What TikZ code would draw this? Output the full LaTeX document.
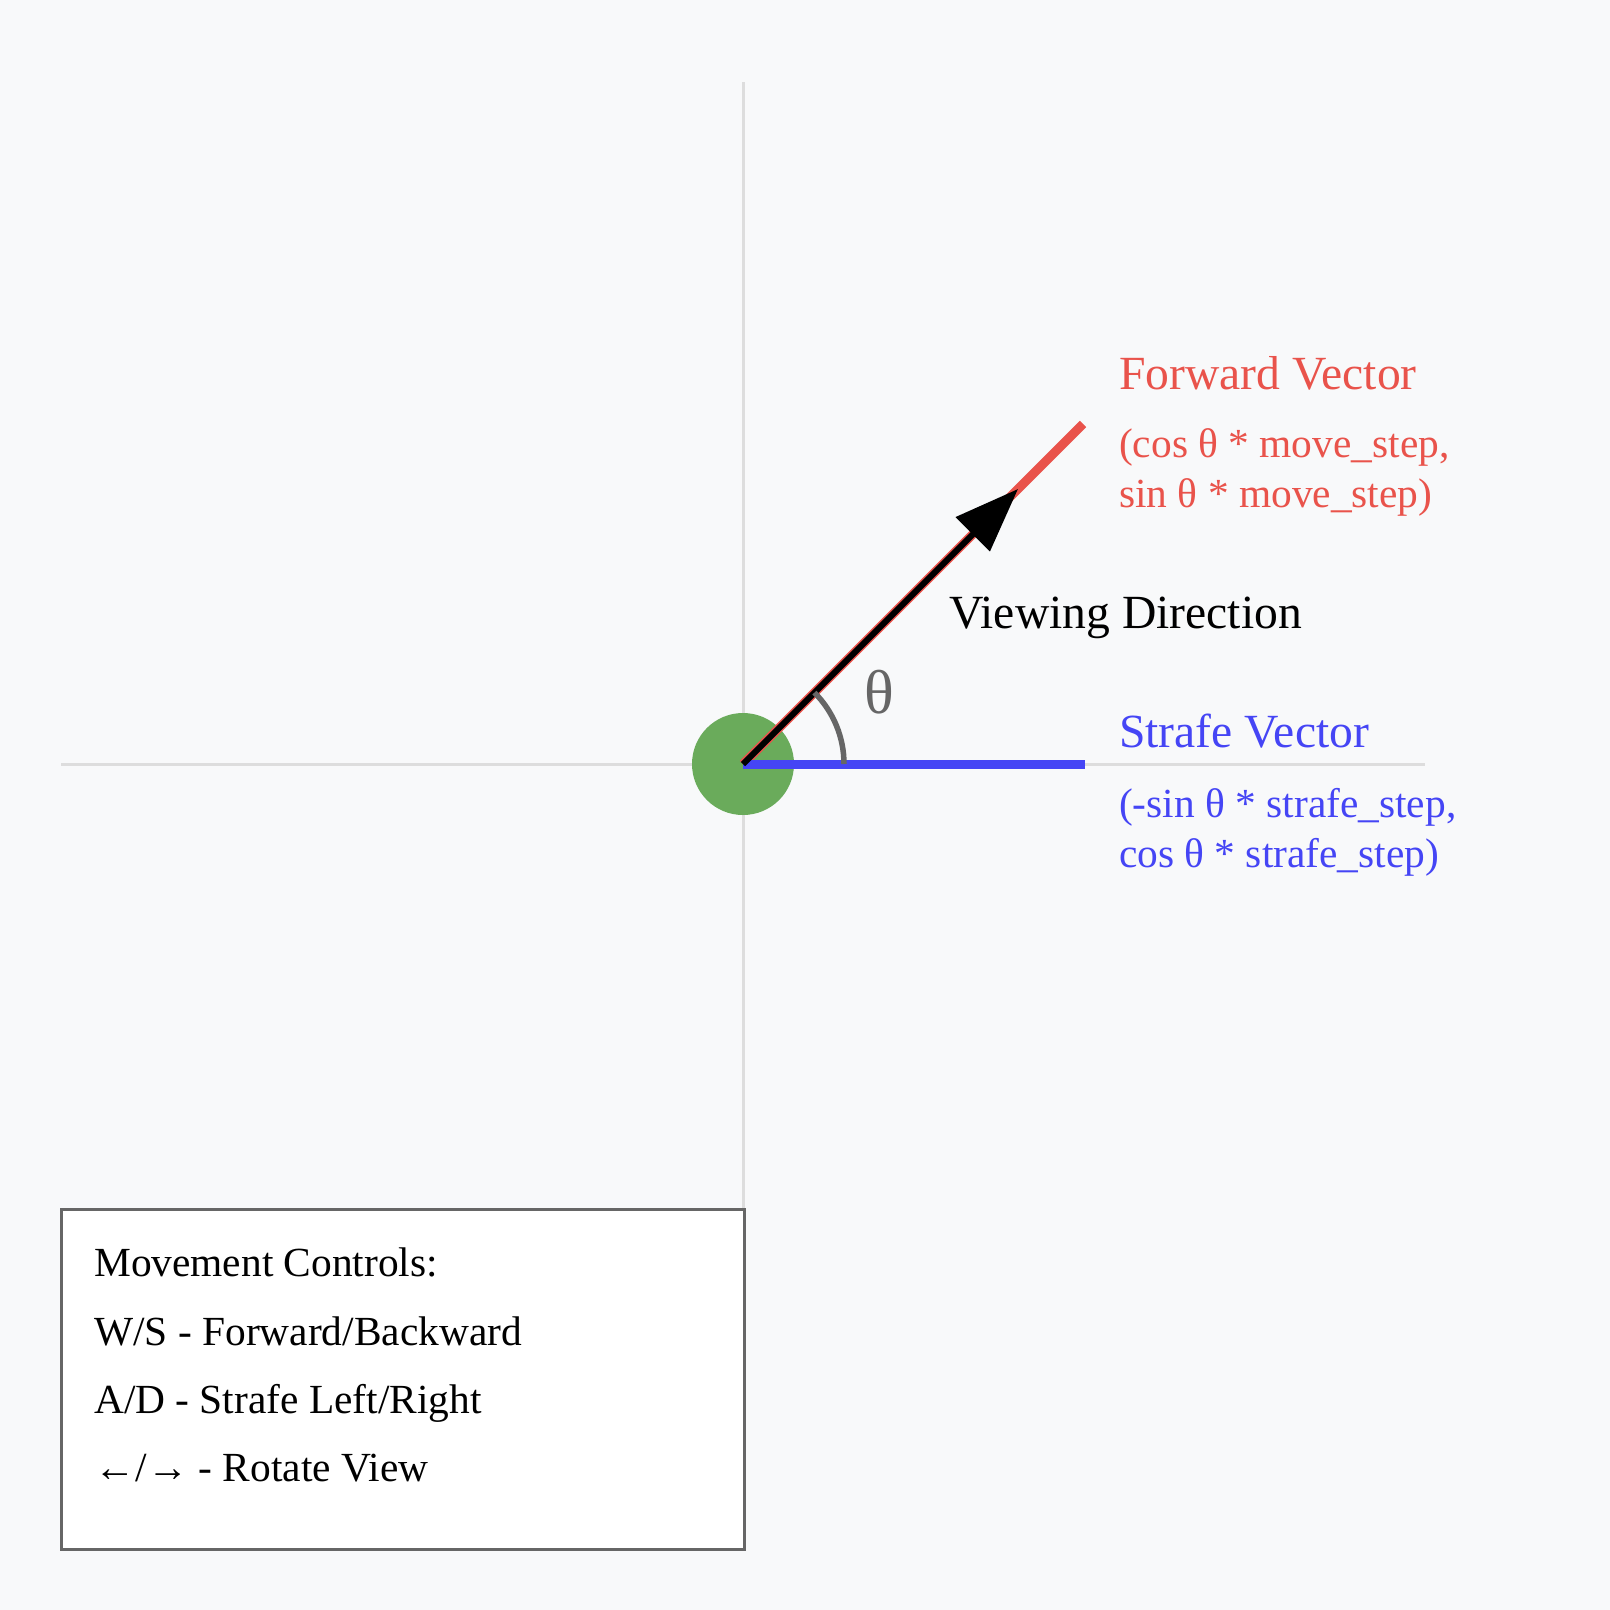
\documentclass[tikz,border=0pt]{standalone}
\usepackage{fontspec}
\setmainfont{Liberation Serif}
\usetikzlibrary{arrows.meta}
\definecolor{bg}{HTML}{F8F9FA}
\definecolor{axisgray}{HTML}{DDDDDD}
\definecolor{fwdred}{HTML}{E9534B}
\definecolor{strblue}{HTML}{4545F5}
\definecolor{playergreen}{HTML}{6AAB5B}
\definecolor{boxgray}{HTML}{666666}
\begin{document}
\begin{tikzpicture}[x=1pt,y=-1pt,
  lbl/.style={anchor=base west, inner sep=0pt},
  big/.style={font=\fontsize{47.6}{56}\selectfont},
  small/.style={font=\fontsize{41.4}{49}\selectfont},
  axisline/.style={axisgray, line width=3pt},
  vecline/.style={line width=9pt},
]
\fill[bg] (0,0) rectangle (1610,1610);
\useasboundingbox (0,0) rectangle (1610,1610);
% axes
\coordinate (xl) at (61,764);
\coordinate (xr) at (1425,764);
\coordinate (yt) at (743,82);
\coordinate (yb) at (743,1210);
\draw[axisline] (xl) -- (xr);
\draw[axisline] (yt) -- (yb);
% player
\node (player) [circle, fill=playergreen, minimum size=102pt, inner sep=0pt] at (743,764) {};
\coordinate (F) at (1083,424);
\coordinate (S) at (1085,764);
\coordinate (T) at (1018,489);
\coordinate (A) at (844,764);
% vectors
\draw[vecline, fwdred] (player.center) -- (F);
\draw[vecline, strblue] (player.center) -- (S);
\draw[black, line width=6pt, -{Triangle[length=64pt,width=47pt]}] (player.center) -- (T);
% angle arc
\draw[boxgray, line width=5.5pt] (A) arc[start angle=0, end angle=45, radius=101pt];
% labels
\node[lbl, font=\fontsize{62}{70}\selectfont, text=boxgray] (theta) at (864,713) {θ};
\node[lbl, big, text=black] (view) at (949,628) {Viewing Direction};
\node[lbl, big, text=fwdred] (fwd) at (1119,389) {Forward Vector};
\node[lbl, small, text=fwdred] (fwd1) at (1119,457) {(cos θ * move\_step,};
\node[lbl, small, text=fwdred] (fwd2) at (1119,507) {sin θ * move\_step)};
\node[lbl, big, text=strblue] (str) at (1119,747) {Strafe Vector};
\node[lbl, small, text=strblue] (str1) at (1119,817) {(-sin θ * strafe\_step,};
\node[lbl, small, text=strblue] (str2) at (1119,867) {cos θ * strafe\_step)};
% controls box
\node (ctrlbox) [draw=boxgray, line width=3pt, fill=white, anchor=north west, minimum width=683pt, minimum height=340pt, inner sep=0pt] at (59.5,1208) {};
\node[lbl, small] (c1) at (94,1276) {Movement Controls:};
\node[lbl, small] (c2) at (94,1345) {W/S - Forward/Backward};
\node[lbl, small] (c3) at (94,1413) {A/D - Strafe Left/Right};
\node[lbl, small] (c4) at (94,1481) {←/→ - Rotate View};
\end{tikzpicture}
\end{document}
